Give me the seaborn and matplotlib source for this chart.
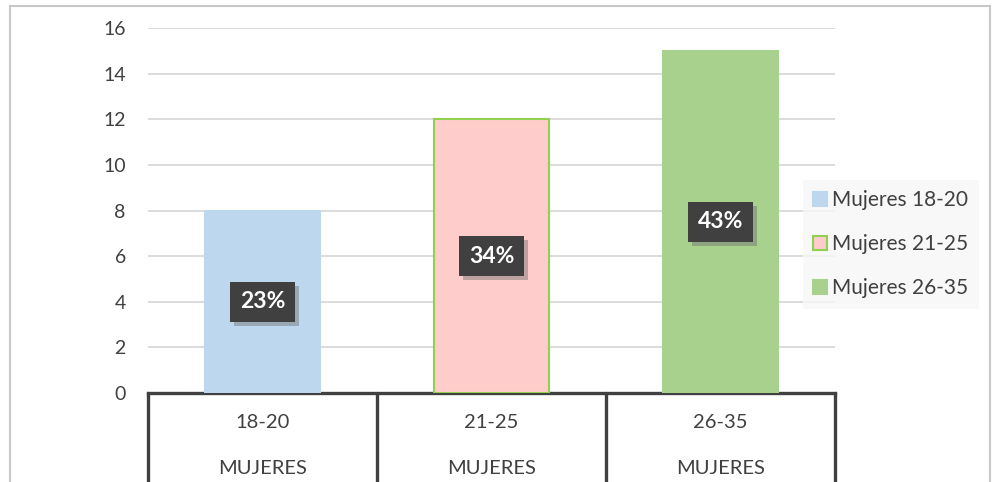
import numpy as np
import pandas as pd
import matplotlib
matplotlib.use("Agg")
import matplotlib.pyplot as plt
import matplotlib.transforms as mtransforms
import matplotlib.patheffects as pe
from matplotlib.patches import Patch, Rectangle
import seaborn as sns

# data
categories = ["18-20", "21-25", "26-35"]
group_label = "MUJERES"
series_names = ["Mujeres 18-20", "Mujeres 21-25", "Mujeres 26-35"]
values = [8, 12, 15]
y_ticks = [0, 2, 4, 6, 8, 10, 12, 14, 16]

colors = ["#bdd7ee", "#ffcccc", "#a9d18e"]
edges = ["#bdd7ee", "#92d050", "#a9d18e"]
text_color = "#404040"

sns.set_theme(style="white")
plt.rcParams["font.family"] = ["Lato", "DejaVu Sans"]

df = pd.DataFrame({"cat": categories, "serie": series_names, "val": values})

fig = plt.figure(figsize=(9.92, 4.82), dpi=100)
W, H = 992, 482
ax = fig.add_axes([148 / W, (H - 393) / H, (835 - 148) / W, (393 - 28) / H])

sns.barplot(data=df, x="cat", y="val", hue="serie", palette=colors,
            saturation=1, dodge=False, width=0.5, legend=False, ax=ax,
            zorder=3)
for patch, ec in zip(ax.patches, edges):
    patch.set_edgecolor(ec)
    patch.set_linewidth(1.5)

ax.set_xlim(-0.5, len(categories) - 0.5)
ax.set_ylim(0, 16)
ax.set_yticks(y_ticks)
ax.yaxis.grid(True, color="#d9d9d9", linewidth=1.3, zorder=0)
ax.set_axisbelow(True)
ax.tick_params(axis="y", length=0, pad=16, labelsize=14, labelcolor=text_color)
ax.set_xticks([])
ax.set_xlabel("")
ax.set_ylabel("")
for s in ["left", "right", "top"]:
    ax.spines[s].set_visible(False)
ax.spines["bottom"].set_color(text_color)
ax.spines["bottom"].set_linewidth(2.4)

# percentage labels in dark boxes with a drop shadow
total = sum(values)
for i, v in enumerate(values):
    txt = f"{round(100 * v / total)}%"
    t = ax.text(i, v / 2, txt, ha="center", va="center", fontsize=16.5,
                fontweight="bold", color="white", zorder=5,
                bbox=dict(boxstyle="square,pad=0.42", facecolor="#404040",
                          edgecolor="none"))
    t.get_bbox_patch().set_path_effects([
        pe.SimplePatchShadow(offset=(3, -3), shadow_rgbFace="#6f6f6f", alpha=0.45),
        pe.Normal()])

# category table below the axis
blend = mtransforms.blended_transform_factory(ax.transData, fig.transFigure)
for b in np.arange(-0.5, len(categories), 1.0):
    ax.plot([b, b], [0, (H - 393) / H], transform=blend, color=text_color,
            linewidth=2.4, clip_on=False, zorder=6)
for i, c in enumerate(categories):
    ax.text(i, (H - 423) / H, c, transform=blend, ha="center", va="center",
            fontsize=14.5, color=text_color)
    ax.text(i, (H - 469) / H, group_label, transform=blend, ha="center",
            va="center", fontsize=14.5, color=text_color)

# legend
handles = [Patch(facecolor=colors[k], edgecolor=edges[k], linewidth=1.5,
                 label=series_names[k]) for k in range(len(series_names))]
leg = fig.legend(handles=handles, loc="upper left",
                 bbox_to_anchor=(803 / W, 1 - 180 / H), frameon=True,
                 fontsize=15, labelspacing=1.15, handlelength=0.65,
                 handleheight=0.65, handletextpad=0.25, borderpad=0.5,
                 borderaxespad=0, fancybox=False)
leg.get_frame().set_facecolor("#f7f7f7")
leg.get_frame().set_edgecolor("none")
for t in leg.get_texts():
    t.set_color(text_color)

# outer chart border
fig.patches.append(Rectangle((10 / W, -0.1), 980 / W, 1.1 - 6 / H,
                             transform=fig.transFigure, fill=False,
                             edgecolor="#c8c8c8", linewidth=1.5, zorder=0))

fig.savefig("out.png", dpi=100)
